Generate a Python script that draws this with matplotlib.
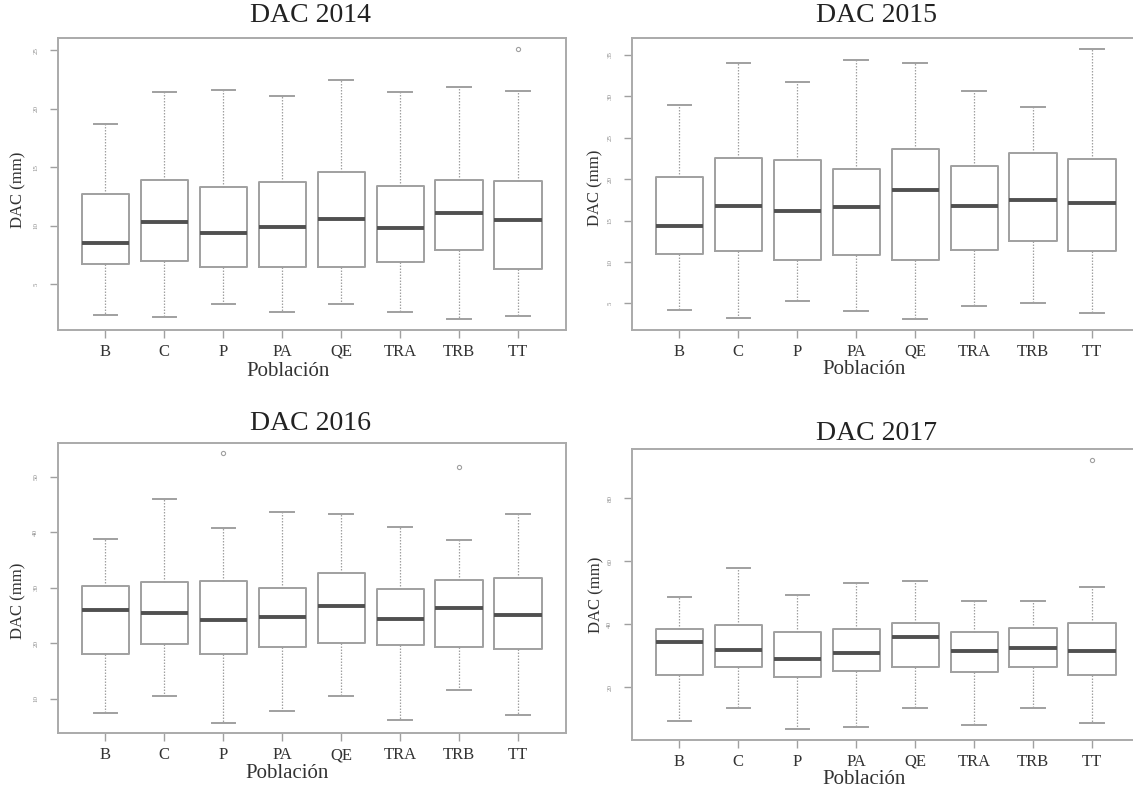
import numpy as np
import matplotlib
matplotlib.use('Agg')
import matplotlib.pyplot as plt

plt.rcParams['font.family'] = ['Liberation Serif', 'DejaVu Serif']

W, H = 1133, 791

poblaciones = ['B', 'C', 'P', 'PA', 'QE', 'TRA', 'TRB', 'TT']

# DAC 2014
lo_2014 = [2.4, 2.2, 3.3, 2.6, 3.3, 2.6, 2.0, 2.3]
q1_2014 = [6.7, 7.0, 6.5, 6.5, 6.5, 6.9, 7.9, 6.3]
med_2014 = [8.5, 10.3, 9.4, 9.9, 10.6, 9.8, 11.1, 10.5]
q3_2014 = [12.7, 13.9, 13.3, 13.7, 14.6, 13.4, 13.9, 13.8]
hi_2014 = [18.7, 21.4, 21.6, 21.1, 22.5, 21.4, 21.9, 21.5]
out_2014 = [[], [], [], [], [], [], [], [25.1]]

# DAC 2015
lo_2015 = [4.2, 3.3, 5.3, 4.1, 3.1, 4.7, 5.0, 3.8]
q1_2015 = [11.0, 11.3, 10.3, 10.8, 10.3, 11.5, 12.5, 11.3]
med_2015 = [14.4, 16.8, 16.1, 16.6, 18.7, 16.8, 17.5, 17.1]
q3_2015 = [20.3, 22.5, 22.3, 21.2, 23.6, 21.6, 23.2, 22.4]
hi_2015 = [29.0, 34.0, 31.7, 34.4, 34.0, 30.6, 28.7, 35.7]
out_2015 = [[], [], [], [], [], [], [], []]

# DAC 2016
lo_2016 = [7.5, 10.4, 5.7, 7.8, 10.4, 6.1, 11.5, 7.0]
q1_2016 = [18.0, 19.8, 18.0, 19.4, 20.0, 19.7, 19.4, 19.0]
med_2016 = [25.9, 25.4, 24.1, 24.7, 26.7, 24.4, 26.3, 25.0]
q3_2016 = [30.3, 31.1, 31.3, 29.9, 32.7, 29.7, 31.4, 31.7]
hi_2016 = [38.8, 46.0, 40.8, 43.7, 43.2, 41.0, 38.6, 43.2]
out_2016 = [[], [], [54.2], [], [], [], [51.7], []]

# DAC 2017
lo_2017 = [9.2, 13.5, 6.6, 7.3, 13.5, 7.9, 13.5, 8.6]
q1_2017 = [23.8, 26.5, 23.1, 25.2, 26.5, 24.9, 26.3, 23.8]
med_2017 = [34.2, 31.9, 29.0, 31.0, 36.0, 31.6, 32.3, 31.6]
q3_2017 = [38.4, 39.8, 37.6, 38.4, 40.5, 37.6, 38.9, 40.5]
hi_2017 = [48.8, 58.0, 49.4, 53.2, 53.8, 47.5, 47.5, 51.9]
out_2017 = [[], [], [], [], [], [], [], [92.2]]

GRIS = '#a0a0a0'
OSCURO = '#505050'

fig = plt.figure(figsize=(W / 100, H / 100), dpi=100)


def px_axes(left, top, width, height):
    return fig.add_axes([left / W, 1 - (top + height) / H, width / W, height / H])


def px_text(x, y, s, **kw):
    fig.text(x / W, 1 - y / H, s, ha='center', va='center', **kw)


def panel(ax, lo, q1, med, q3, hi, out, yticks):
    stats = []
    for i in range(len(poblaciones)):
        stats.append(dict(whislo=lo[i], q1=q1[i], med=med[i], q3=q3[i],
                          whishi=hi[i], fliers=np.array(out[i])))
    pos = np.arange(1, len(poblaciones) + 1)
    ax.bxp(stats, positions=pos, widths=0.8, showfliers=True,
           boxprops=dict(color=GRIS, lw=1.4),
           medianprops=dict(color=OSCURO, lw=2.8),
           whiskerprops=dict(color=GRIS, lw=0.9, linestyle=(0, (1.2, 1.2))),
           capprops=dict(color=GRIS, lw=1.4),
           flierprops=dict(marker='o', markersize=3, markerfacecolor='none',
                           markeredgecolor=GRIS, markeredgewidth=0.8))
    # R-style axis range: data extent plus 4 %
    todos = lo + hi + [v for o in out for v in o]
    a, b = min(todos), max(todos)
    pad = 0.04 * (b - a)
    ax.set_ylim(a - pad, b + pad)
    ax.set_xlim(0.19, 8.81)
    ax.set_xticks(pos)
    ax.set_xticklabels(poblaciones, fontsize=12)
    ax.set_yticks(yticks)
    ax.set_yticklabels([str(t) for t in yticks], fontsize=5,
                       rotation=90, va='center')
    ax.tick_params(axis='both', colors=GRIS, length=6, width=1.0)
    ax.tick_params(axis='x', labelcolor='#333333', pad=4)
    ax.tick_params(axis='y', labelcolor='#888888', pad=8)
    for s in ax.spines.values():
        s.set_color('#aaaaaa')
        s.set_linewidth(1.4)


ax1 = px_axes(57.7, 38.3, 508, 291.7)
panel(ax1, lo_2014, q1_2014, med_2014, q3_2014, hi_2014, out_2014, [5, 10, 15, 20, 25])
ax2 = px_axes(631.7, 38.3, 508, 291.7)
panel(ax2, lo_2015, q1_2015, med_2015, q3_2015, hi_2015, out_2015, [5, 10, 15, 20, 25, 30, 35])
ax3 = px_axes(57.7, 442.7, 508, 290.6)
panel(ax3, lo_2016, q1_2016, med_2016, q3_2016, hi_2016, out_2016, [10, 20, 30, 40, 50])
ax4 = px_axes(631.7, 449.3, 508, 290.7)
panel(ax4, lo_2017, q1_2017, med_2017, q3_2017, hi_2017, out_2017, [20, 40, 60, 80])

# titles
px_text(310, 16, 'DAC 2014', fontsize=20, color='#222222')
px_text(876, 16, 'DAC 2015', fontsize=20, color='#222222')
px_text(310, 423, 'DAC 2016', fontsize=20, color='#222222')
px_text(876, 434, 'DAC 2017', fontsize=20, color='#222222')

# axis titles
for x, y in [(288, 371), (864, 370), (287, 773), (864, 779)]:
    px_text(x, y, 'Población', fontsize=15, color='#333333')
for x, y in [(18, 190), (595, 188), (18, 601), (596, 595)]:
    px_text(x, y, 'DAC (mm)', fontsize=12, color='#333333', rotation=90)

fig.savefig('out.png', dpi=100, facecolor='white')
